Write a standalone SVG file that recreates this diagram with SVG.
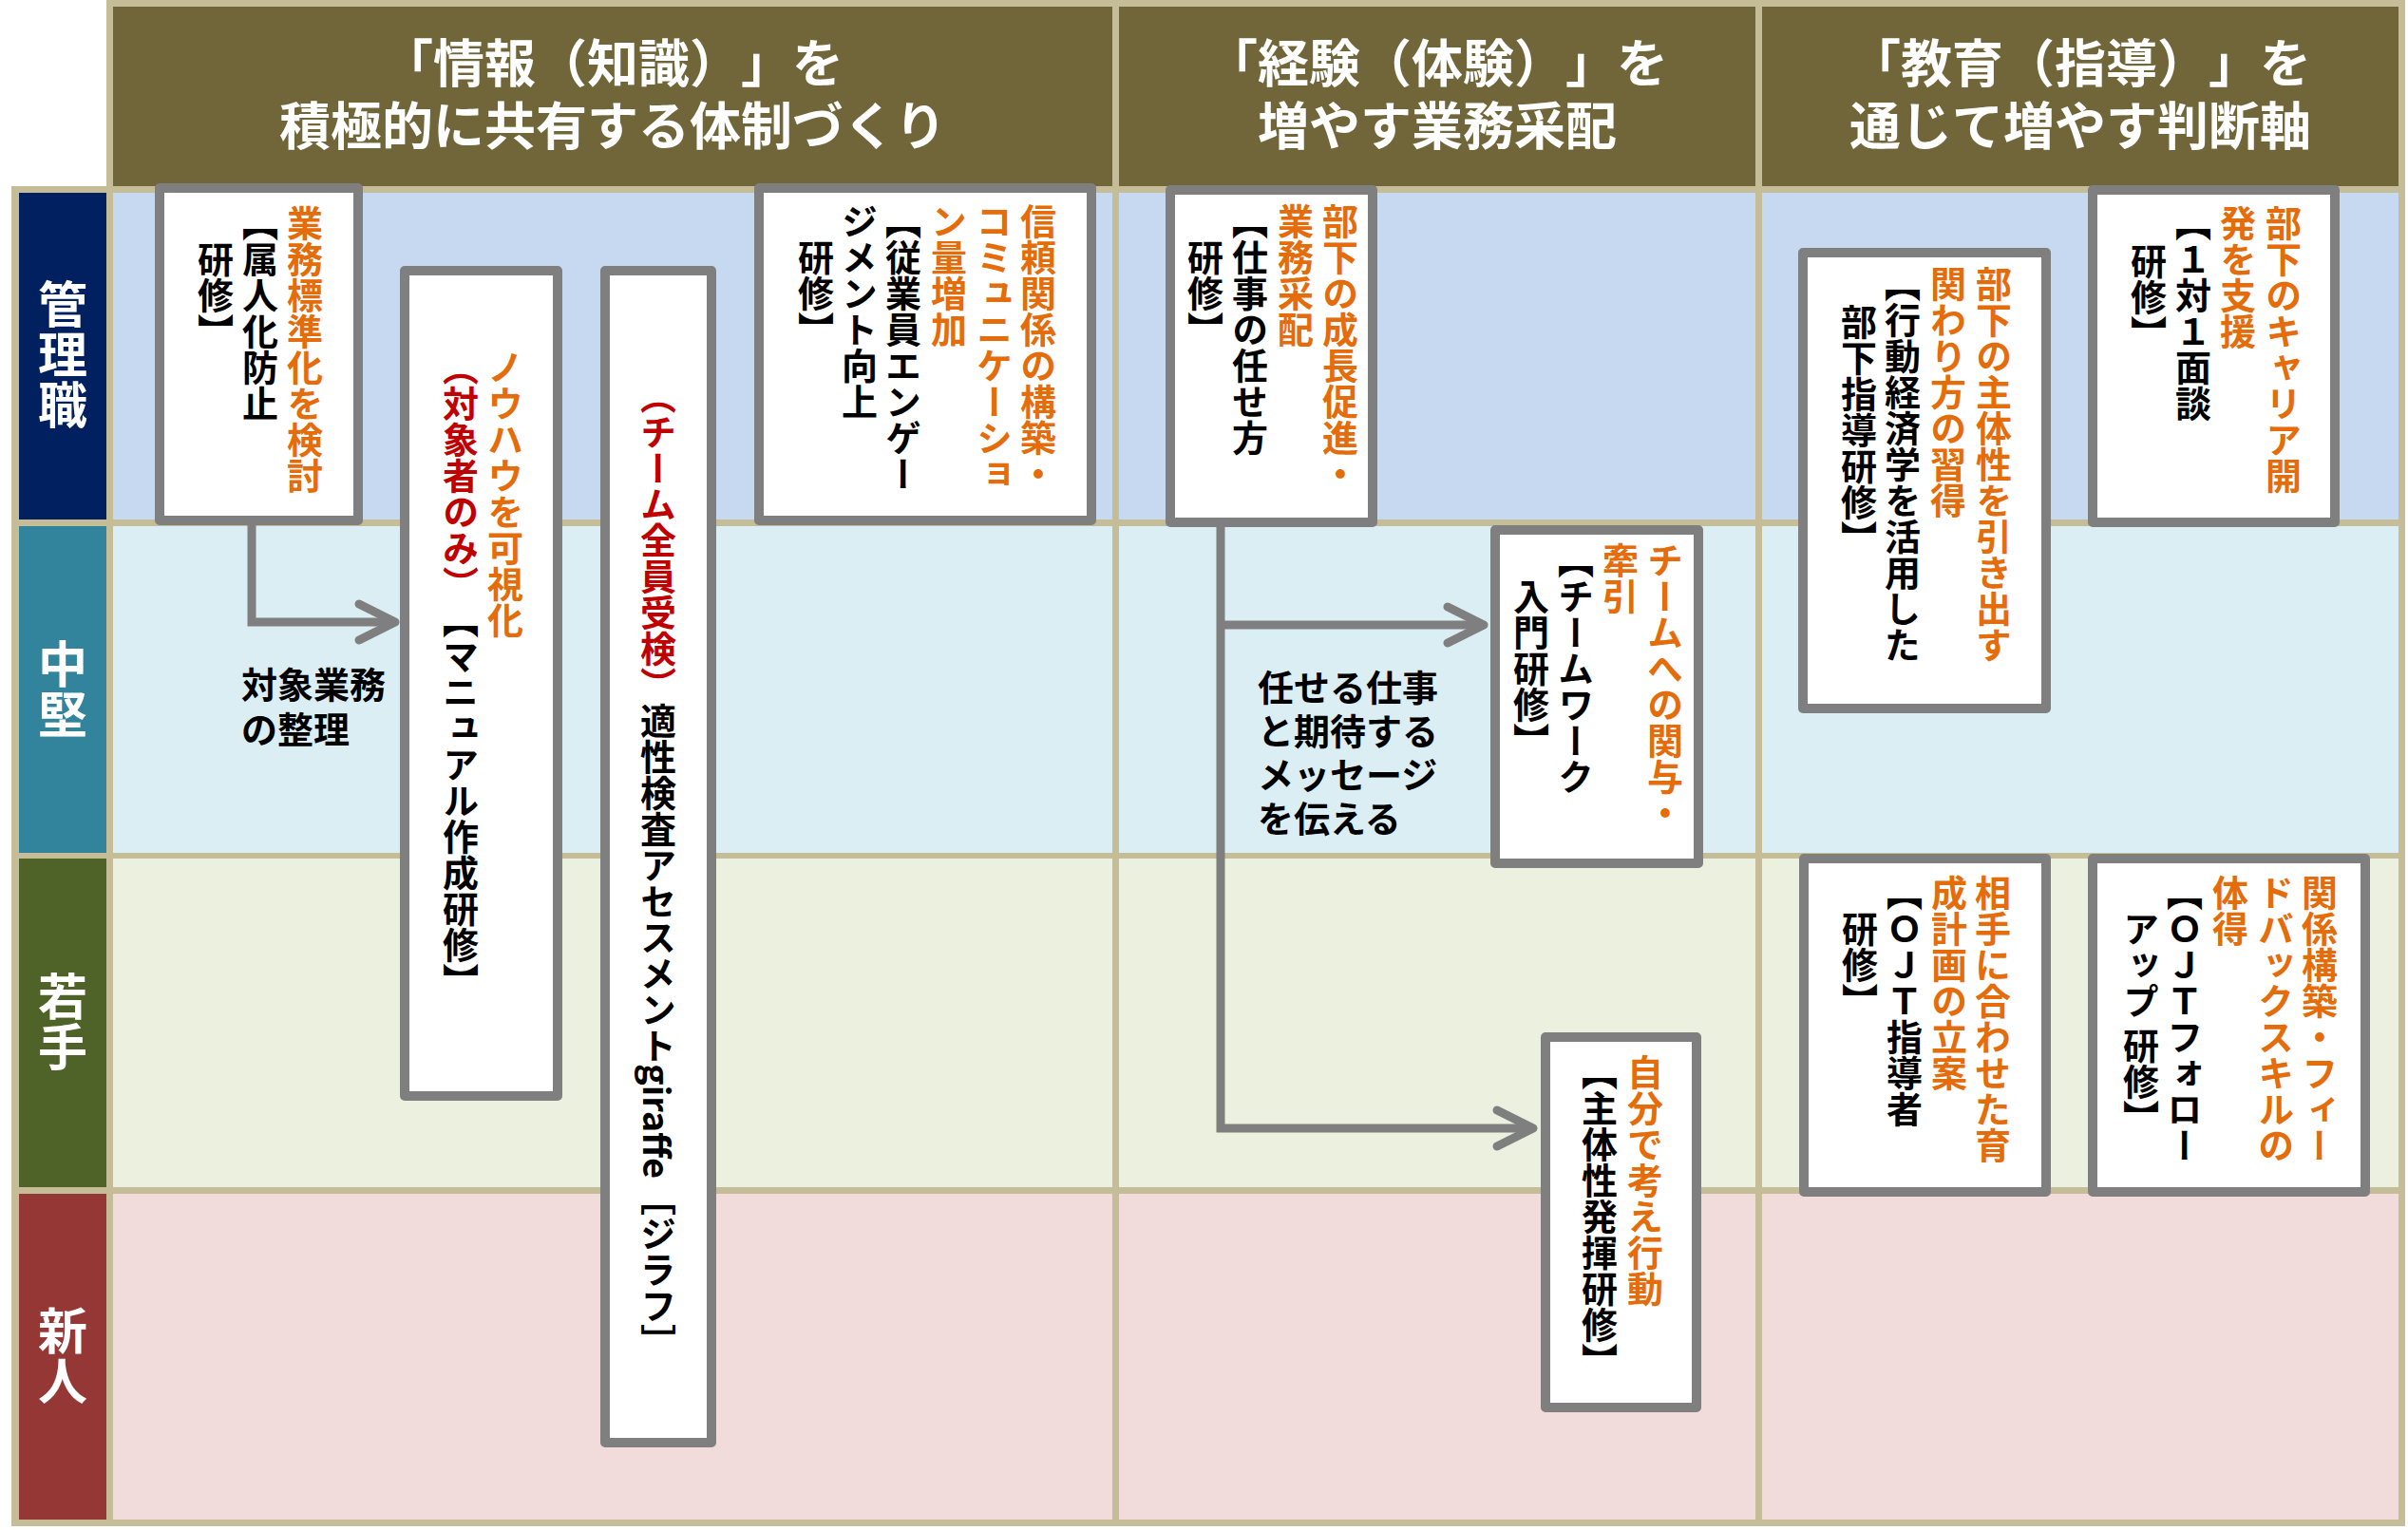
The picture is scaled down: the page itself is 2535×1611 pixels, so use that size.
<svg xmlns="http://www.w3.org/2000/svg" width="2535" height="1611" viewBox="0 0 2535 1611">
<style>
text{text-spacing-trim:space-all}
.bg{fill:#c4bd97}
.hd{fill:#70663a}
.r1{fill:#c6d9f1}.r2{fill:#dbeef4}.r3{fill:#ebf1de}.r4{fill:#f2dcdb}
.ht{font-family:"Noto Sans CJK JP",sans-serif;font-size:54px;font-weight:700;fill:#fff;text-anchor:middle}
.lt{writing-mode:vertical-rl;font-family:"Noto Sans CJK JP",sans-serif;font-size:52px;font-weight:700;fill:#fff;letter-spacing:1px}
.nt{font-family:"Noto Sans CJK JP",sans-serif;font-size:38px;font-weight:700;fill:#000}
.v{writing-mode:vertical-rl;font-family:"Noto Sans CJK JP",sans-serif;font-size:38px;font-weight:700;fill:#000}
.o{fill:#e46c0a}.r{fill:#c00000}.k{fill:#000}
.box{fill:#fff;stroke:#7f7f7f;stroke-width:10;stroke-linejoin:round}
.conn{fill:none;stroke:#7f7f7f;stroke-width:9}
</style>
<defs>
<marker id="chev" markerUnits="userSpaceOnUse" markerWidth="60" markerHeight="60" viewBox="0 0 60 60" refX="50" refY="30" orient="auto">
<path d="M12,11 L50,30 L12,49" fill="none" stroke="#7f7f7f" stroke-width="9" stroke-linecap="round" stroke-linejoin="round"/>
</marker>
</defs>
<rect width="2535" height="1611" fill="#fff"/>
<g id="grid">
<rect class="bg" x="112" y="0" width="2420" height="204"/>
<rect class="bg" x="12" y="196" width="2520" height="1411"/>
<rect class="hd" x="119" y="7" width="1052" height="189"/>
<rect class="hd" x="1178" y="7" width="670" height="189"/>
<rect class="hd" x="1855" y="7" width="670" height="189"/>
<rect x="20" y="203" width="92" height="344" fill="#002060"/>
<rect x="20" y="554" width="92" height="344" fill="#31849b"/>
<rect x="20" y="904" width="92" height="346" fill="#4f6228"/>
<rect x="20" y="1257" width="92" height="343" fill="#953735"/>
<rect class="r1" x="119" y="203" width="1052" height="344"/>
<rect class="r1" x="1178" y="203" width="670" height="344"/>
<rect class="r1" x="1855" y="203" width="670" height="344"/>
<rect class="r2" x="119" y="554" width="1052" height="344"/>
<rect class="r2" x="1178" y="554" width="670" height="344"/>
<rect class="r2" x="1855" y="554" width="670" height="344"/>
<rect class="r3" x="119" y="904" width="1052" height="346"/>
<rect class="r3" x="1178" y="904" width="670" height="346"/>
<rect class="r3" x="1855" y="904" width="670" height="346"/>
<rect class="r4" x="119" y="1257" width="1052" height="343"/>
<rect class="r4" x="1178" y="1257" width="670" height="343"/>
<rect class="r4" x="1855" y="1257" width="670" height="343"/>
</g>
<g id="headers">
<text class="ht" x="645" y="87">「情報（知識）」を</text>
<text class="ht" x="645" y="153">積極的に共有する体制づくり</text>
<text class="ht" x="1513" y="87">「経験（体験）」を</text>
<text class="ht" x="1513" y="153">増やす業務采配</text>
<text class="ht" x="2190" y="87">「教育（指導）」を</text>
<text class="ht" x="2190" y="153">通じて増やす判断軸</text>
</g>
<g id="rowlabels">
<text class="lt" x="66" y="294">管理職</text>
<text class="lt" x="66" y="673">中堅</text>
<text class="lt" x="66" y="1023">若手</text>
<text class="lt" x="66" y="1375">新人</text>
</g>
<g id="connectors">
<path class="conn" d="M265,553 V655 H416" marker-end="url(#chev)"/>
<path class="conn" d="M1285,555 V1188 H1614" marker-end="url(#chev)"/>
<path class="conn" d="M1285,658 H1562" marker-end="url(#chev)"/>
<text class="nt"><tspan x="254" y="735">対象業務</tspan><tspan x="254" y="782">の整理</tspan></text>
<text class="nt"><tspan x="1324" y="738">任せる仕事</tspan><tspan x="1324" y="784">と期待する</tspan><tspan x="1324" y="830">メッセージ</tspan><tspan x="1324" y="876">を伝える</tspan></text>
</g>
<g id="nodeA">
<rect class="box" x="168" y="198" width="209" height="350"/>
<text class="v o" x="321" y="216">業務標準化を検討</text>
<text class="v" x="274" y="216">【属人化防止</text>
<text class="v" x="227" y="254">研修】</text>
</g>
<g id="nodeB">
<rect class="box" x="426" y="285" width="161" height="869"/>
<text class="v o" x="532" y="368">ノウハウを可視化</text>
<text class="v" x="485" y="368"><tspan class="r">（対象者のみ）</tspan><tspan class="k">【マニュアル作成研修】</tspan></text>
</g>
<g id="nodeC">
<rect class="box" x="637" y="285" width="112" height="1234"/>
<text class="v" x="693" y="398"><tspan class="r">（チーム全員受検）</tspan><tspan class="k">適性検査アセスメントgiraffe［ジラフ］</tspan></text>
</g>
<g id="nodeD">
<rect class="box" x="799" y="198" width="350" height="350"/>
<text class="v o" x="1093" y="214">信頼関係の構築・</text>
<text class="v o" x="1047" y="214">コミュニケーショ</text>
<text class="v o" x="999" y="214">ン量増加</text>
<text class="v" x="951" y="214">【従業員エンゲー</text>
<text class="v" x="905" y="214">ジメント向上</text>
<text class="v" x="859" y="252">研修】</text>
</g>
<g id="nodeE">
<rect class="box" x="1232" y="200" width="213" height="350"/>
<text class="v o" x="1411" y="214">部下の成長促進・</text>
<text class="v o" x="1364" y="214">業務采配</text>
<text class="v" x="1316" y="214">【仕事の任せ方</text>
<text class="v" x="1269" y="252">研修】</text>
</g>
<g id="nodeF">
<rect class="box" x="1574" y="558" width="214" height="351"/>
<text class="v o" x="1753" y="571">チームへの関与・</text>
<text class="v o" x="1706" y="571">牽引</text>
<text class="v" x="1659" y="571">【チームワーク</text>
<text class="v" x="1612" y="609">入門研修】</text>
</g>
<g id="nodeG">
<rect class="box" x="1627" y="1092" width="159" height="390"/>
<text class="v o" x="1732" y="1110">自分で考え行動</text>
<text class="v" x="1684" y="1110">【主体性発揮研修】</text>
</g>
<g id="nodeH">
<rect class="box" x="1898" y="266" width="256" height="480"/>
<text class="v o" x="2099" y="280">部下の主体性を引き出す</text>
<text class="v o" x="2051" y="280">関わり方の習得</text>
<text class="v" x="2003" y="280">【行動経済学を活用した</text>
<text class="v" x="1957" y="320">部下指導研修】</text>
</g>
<g id="nodeI">
<rect class="box" x="2203" y="200" width="255" height="350"/>
<text class="v o" x="2404" y="216">部下のキャリア開</text>
<text class="v o" x="2356" y="216">発を支援</text>
<text class="v" x="2309" y="216">【１対１面談</text>
<text class="v" x="2262" y="256">研修】</text>
</g>
<g id="nodeJ">
<rect class="box" x="1899" y="904" width="255" height="351"/>
<text class="v o" x="2098" y="921">相手に合わせた育</text>
<text class="v o" x="2052" y="921">成計画の立案</text>
<text class="v" x="2005" y="921">【ＯＪＴ指導者</text>
<text class="v" x="1958" y="959">研修】</text>
</g>
<g id="nodeK">
<rect class="box" x="2203" y="904" width="287" height="351"/>
<text class="v o" x="2442" y="921">関係構築・フィー</text>
<text class="v o" x="2396" y="921">ドバックスキルの</text>
<text class="v o" x="2348" y="921">体得</text>
<text class="v" x="2300" y="921">【ＯＪＴフォロー</text>
<text class="v" x="2254" y="959">アップ 研修】</text>
</g>
</svg>
